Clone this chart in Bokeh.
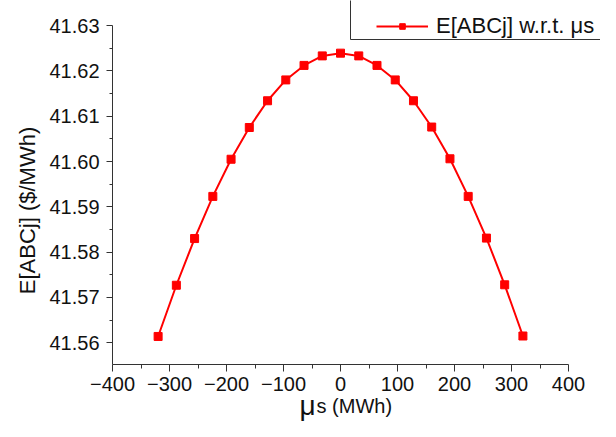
import math
from bokeh.plotting import figure
from bokeh.models import (Range1d, FixedTicker, NumeralTickFormatter, Legend,
                          LegendItem, Label, BoxAnnotation)
from bokeh.embed import file_html
from bokeh.resources import INLINE

# ---- data ----
mu_s = [-320, -288, -256, -224, -192, -160, -128, -96, -64, -32, 0,
        32, 64, 96, 128, 160, 192, 224, 256, 288, 320]
e_abcj = [41.5614, 41.5727, 41.5830, 41.5923, 41.6005, 41.6075, 41.6134,
          41.6180, 41.6212, 41.6233, 41.6239, 41.6233, 41.6212, 41.6180,
          41.6134, 41.6076, 41.6006, 41.5923, 41.5831, 41.5728, 41.5615]

x_ticks = [-400, -300, -200, -100, 0, 100, 200, 300, 400]
x_minor = [-350, -250, -150, -50, 50, 150, 250, 350]
y_ticks = [41.56, 41.57, 41.58, 41.59, 41.60, 41.61, 41.62, 41.63]
y_minor = [41.565, 41.575, 41.585, 41.595, 41.605, 41.615, 41.625]

series_label = "E[ABCj] w.r.t. μs"
y_title = "E[ABCj] ($/MWh)"
x_title_sym = "μ"
x_title_rest = "s (MWh)"

FONT = "Liberation Sans"
INK = "#111111"
AXC = "#333333"

W, H = 600, 421
p = figure(width=W, height=H, output_backend="svg", toolbar_location=None,
           x_range=Range1d(-596.5, 456.1), y_range=Range1d(41.54264, 41.63552),
           min_border=0)
p.outline_line_color = None
p.xgrid.visible = False
p.ygrid.visible = False
p.background_fill_color = "white"
p.border_fill_color = "white"

line_r = p.line(mu_s, e_abcj, line_color="#ff0000", line_width=2)
sq_r = p.scatter(mu_s, e_abcj, marker="square", size=8, color="#ff0000")

# axes, pinned where the reference draws them
for ax in (p.xaxis[0], p.yaxis[0]):
    ax.axis_line_color = AXC
    ax.major_tick_line_color = AXC
    ax.minor_tick_line_color = AXC
    ax.major_tick_in = 0
    ax.minor_tick_in = 0
    ax.major_label_text_font = FONT
    ax.major_label_text_font_size = "20px"
    ax.major_label_text_color = INK

xa = p.xaxis[0]
xa.ticker = FixedTicker(ticks=x_ticks, minor_ticks=x_minor)
xa.fixed_location = 41.5552
xa.bounds = (-400, 400)
xa.major_tick_out = 7
xa.minor_tick_out = 4
xa.major_label_standoff = 5

ya = p.yaxis[0]
ya.ticker = FixedTicker(ticks=y_ticks, minor_ticks=y_minor)
ya.formatter = NumeralTickFormatter(format="0.00")
ya.fixed_location = -400
ya.bounds = (41.5552, 41.63)
ya.major_tick_out = 6
ya.minor_tick_out = 3
ya.major_label_standoff = 7

# axis titles
p.add_layout(Label(x=27, y=H - 210, x_units="screen", y_units="screen",
                   text=y_title, angle=math.pi / 2, text_font=FONT,
                   text_font_size="22px", text_color=INK,
                   text_align="center", text_baseline="middle"))
p.add_layout(Label(x=299, y=H - 405, x_units="screen", y_units="screen",
                   text=x_title_sym, text_font=FONT, text_font_size="28px",
                   text_color=INK, text_baseline="alphabetic"))
p.add_layout(Label(x=316, y=H - 405, x_units="screen", y_units="screen",
                   text=x_title_rest, text_font=FONT, text_font_size="20px",
                   text_color=INK, text_baseline="alphabetic"))

# legend frame running off the top-right corner, as in the reference
p.add_layout(BoxAnnotation(left=350, right=W + 50, bottom=H - 39, top=H + 50,
                           left_units="screen", right_units="screen",
                           bottom_units="screen", top_units="screen",
                           fill_color="white", fill_alpha=1.0,
                           line_color=AXC, line_width=1, line_alpha=1.0))

legend = Legend(items=[LegendItem(label=series_label, renderers=[line_r, sq_r])],
                location=(376, H - 39), margin=0, padding=5, spacing=0,
                glyph_width=52, glyph_height=14, label_standoff=8,
                label_height=24,
                label_text_font=FONT, label_text_font_size="22px",
                label_text_color=INK,
                border_line_color=None, background_fill_alpha=0.0)
p.add_layout(legend)

open("out.html", "w").write(file_html(p, INLINE))
